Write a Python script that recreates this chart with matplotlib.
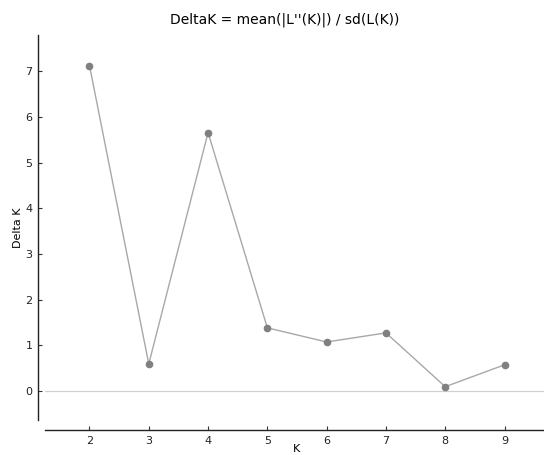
import matplotlib

matplotlib.use("Agg")
import matplotlib.pyplot as plt

k_values = [2, 3, 4, 5, 6, 7, 8, 9]
delta_k = [7.13, 0.59, 5.66, 1.38, 1.07, 1.27, 0.09, 0.57]
x_ticks = [2, 3, 4, 5, 6, 7, 8, 9]
y_ticks = [0, 1, 2, 3, 4, 5, 6, 7]

fig = plt.figure(figsize=(5.44, 4.55), dpi=100)
ax = fig.add_axes([45 / 544, 35 / 455, 504 / 544, 385 / 455])

ax.axhline(0, color="#d0d0d0", lw=0.9, zorder=1)
ax.plot(k_values, delta_k, color="#a8a8a8", lw=1.0, zorder=2)
ax.plot(k_values, delta_k, "o", color="#808080", ms=4.5, mec="#808080", zorder=3)

ax.set_xlim(1.25, 9.75)
ax.set_ylim(-0.64, 7.8)
ax.set_xticks(x_ticks)
ax.set_yticks(y_ticks)

for side in ("top", "right"):
    ax.spines[side].set_visible(False)
ax.spines["left"].set_position(("outward", 5))
ax.spines["bottom"].set_position(("outward", 7.2))
for side in ("left", "bottom"):
    ax.spines[side].set_color("#222222")
    ax.spines[side].set_linewidth(1.0)

ax.tick_params(direction="in", length=3, width=0.8, colors="#333333",
               labelsize=8, labelcolor="#222222", pad=4)

ax.set_xlabel("K", fontsize=8, labelpad=-1)
ax.set_ylabel("Delta K", fontsize=8, labelpad=2)
fig.text(285 / 544, 1 - 20 / 455, "DeltaK = mean(|L''(K)|) / sd(L(K))",
         ha="center", va="center", fontsize=10)

fig.savefig("out.png", dpi=100)
